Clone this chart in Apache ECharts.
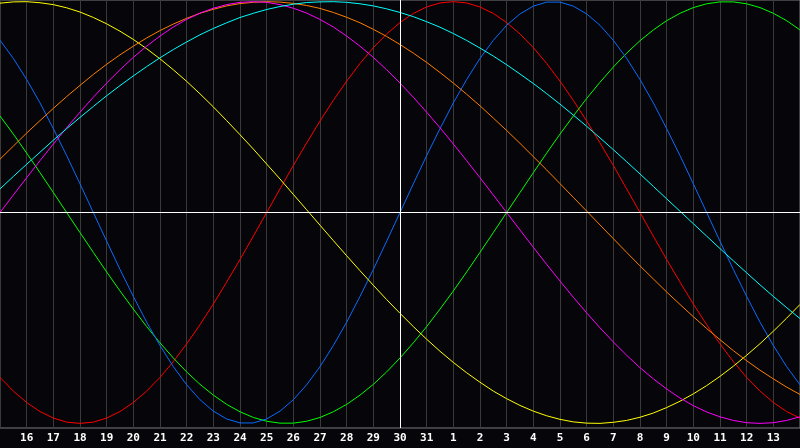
<!DOCTYPE html>
<html>
<head>
<meta charset="utf-8">
<script src="https://cdn.jsdelivr.net/npm/echarts@6/dist/echarts.min.js"></script>
<style>
html,body{margin:0;padding:0;background:#060509;}
#chart{width:800px;height:448px;}
</style>
</head>
<body>
<div id="chart"></div>
<script>
// Day labels for x positions 0..30 (position 15 = today, the 30th)
const dayLabels = ['15','16','17','18','19','20','21','22','23','24','25','26','27','28','29','30','31','1','2','3','4','5','6','7','8','9','10','11','12','13','14'];
const todayIndex = 15;
const samplesPerDay = 2; // values read every half day

// Values read every half day from position 0 to 30 (-1 .. 1)
const red = [-0.782,-0.847,-0.901,-0.944,-0.975,-0.994,-1.000,-0.994,-0.975,-0.944,-0.901,-0.847,-0.782,-0.707,-0.623,-0.532,-0.434,-0.330,-0.223,-0.112,0,0.112,0.223,0.330,0.434,0.532,0.623,0.707,0.782,0.847,0.901,0.944,0.975,0.994,1.000,0.994,0.975,0.944,0.901,0.847,0.782,0.707,0.623,0.532,0.434,0.330,0.223,0.112,0,-0.112,-0.223,-0.330,-0.434,-0.532,-0.623,-0.707,-0.782,-0.847,-0.901,-0.944,-0.975];
const green = [0.458,0.372,0.282,0.189,0.095,0,-0.095,-0.189,-0.282,-0.372,-0.458,-0.541,-0.618,-0.690,-0.756,-0.815,-0.866,-0.910,-0.945,-0.972,-0.990,-0.999,-0.999,-0.990,-0.972,-0.945,-0.910,-0.866,-0.815,-0.756,-0.690,-0.618,-0.541,-0.458,-0.372,-0.282,-0.189,-0.095,0,0.095,0.189,0.282,0.372,0.458,0.541,0.618,0.690,0.756,0.815,0.866,0.910,0.945,0.972,0.990,0.999,0.999,0.990,0.972,0.945,0.910,0.866];
const blue = [0.817,0.731,0.631,0.520,0.398,0.270,0.136,0,-0.136,-0.270,-0.398,-0.520,-0.631,-0.731,-0.817,-0.888,-0.942,-0.979,-0.998,-0.998,-0.979,-0.942,-0.888,-0.817,-0.731,-0.631,-0.520,-0.398,-0.270,-0.136,0,0.136,0.270,0.398,0.520,0.631,0.731,0.817,0.888,0.942,0.979,0.998,0.998,0.979,0.942,0.888,0.817,0.731,0.631,0.520,0.398,0.270,0.136,0,-0.136,-0.270,-0.398,-0.520,-0.631,-0.731,-0.817];
const yellow = [0.993,0.999,1.000,0.995,0.986,0.971,0.951,0.925,0.895,0.860,0.821,0.777,0.729,0.677,0.622,0.563,0.501,0.436,0.369,0.301,0.230,0.159,0.086,0.013,-0.060,-0.133,-0.205,-0.276,-0.345,-0.413,-0.478,-0.541,-0.601,-0.658,-0.711,-0.760,-0.805,-0.847,-0.883,-0.915,-0.942,-0.964,-0.981,-0.993,-0.999,-1.000,-0.995,-0.986,-0.971,-0.951,-0.925,-0.895,-0.860,-0.821,-0.777,-0.729,-0.677,-0.622,-0.563,-0.501,-0.436];
const orange = [0.253,0.315,0.377,0.436,0.494,0.550,0.603,0.655,0.703,0.748,0.789,0.828,0.863,0.894,0.921,0.945,0.964,0.980,0.991,0.997,1.000,0.998,0.992,0.982,0.968,0.949,0.926,0.900,0.869,0.835,0.797,0.756,0.712,0.664,0.614,0.561,0.506,0.448,0.389,0.328,0.265,0.202,0.137,0.072,0.007,-0.059,-0.124,-0.189,-0.253,-0.315,-0.377,-0.436,-0.494,-0.550,-0.603,-0.655,-0.703,-0.748,-0.789,-0.828,-0.863];
const magenta = [0,0.083,0.165,0.246,0.325,0.402,0.476,0.547,0.614,0.677,0.736,0.789,0.837,0.880,0.916,0.946,0.969,0.986,0.997,1.000,0.997,0.986,0.969,0.946,0.916,0.880,0.837,0.789,0.736,0.677,0.614,0.547,0.476,0.402,0.325,0.246,0.165,0.083,0,-0.083,-0.165,-0.246,-0.325,-0.402,-0.476,-0.547,-0.614,-0.677,-0.736,-0.789,-0.837,-0.880,-0.916,-0.946,-0.969,-0.986,-0.997,-1.000,-0.997,-0.986,-0.969];
const cyan = [0.112,0.171,0.229,0.286,0.343,0.398,0.451,0.503,0.554,0.602,0.648,0.692,0.734,0.773,0.809,0.843,0.873,0.900,0.925,0.945,0.963,0.977,0.988,0.996,0.999,1.000,0.997,0.990,0.980,0.966,0.949,0.929,0.905,0.879,0.849,0.816,0.780,0.742,0.701,0.657,0.612,0.564,0.514,0.462,0.409,0.354,0.298,0.241,0.183,0.124,0.065,0.006,-0.053,-0.112,-0.171,-0.229,-0.286,-0.343,-0.398,-0.451,-0.503];

const seriesDefs = [
  {name:'red', data:red, color:'#ff0000'},
  {name:'green', data:green, color:'#00ff00'},
  {name:'blue', data:blue, color:'#0a6cff'},
  {name:'yellow', data:yellow, color:'#ffff00'},
  {name:'orange', data:orange, color:'#ff7f00'},
  {name:'magenta', data:magenta, color:'#ff00ff'},
  {name:'cyan', data:cyan, color:'#00ffff'}
];

const chart = echarts.init(document.getElementById('chart'), null, {renderer:'canvas'});

const series = seriesDefs.map(s => ({
  name: s.name,
  type: 'line',
  data: s.data.map((v, i) => [i / samplesPerDay, v]),
  smooth: false,
  symbol: 'none',
  animation: false,
  lineStyle: {color: s.color, width: 1},
  z: 3
}));

series.push({
  type: 'line',
  data: [],
  silent: true,
  animation: false,
  z: 2,
  markLine: {
    silent: true,
    symbol: 'none',
    label: {show: false},
    animation: false,
    lineStyle: {color: '#ffffff', width: 1, type: 'solid'},
    data: [{xAxis: todayIndex}, {yAxis: 0}]
  }
});

chart.setOption({
  backgroundColor: '#060509',
  animation: false,
  grid: {left: 0, right: 0, top: 0, bottom: 20, show: true, borderColor: '#7a7a7a', borderWidth: 1, backgroundColor: 'transparent'},
  xAxis: {
    type: 'value',
    min: 0,
    max: 30,
    interval: 1,
    axisLine: {show: true, lineStyle: {color: '#7a7a7a', width: 1}},
    axisTick: {show: false},
    splitLine: {show: true, lineStyle: {color: '#3a3a3a', width: 1}},
    axisLabel: {
      show: true,
      showMinLabel: false,
      showMaxLabel: false,
      color: '#ffffff',
      fontFamily: 'DejaVu Sans Mono',
      fontWeight: 'bold',
      fontSize: 11,
      margin: 5,
      formatter: v => dayLabels[v]
    }
  },
  yAxis: {
    type: 'value',
    min: -1.022,
    max: 1.008,
    show: false,
    splitLine: {show: false}
  },
  series: series
});
</script>
</body>
</html>
